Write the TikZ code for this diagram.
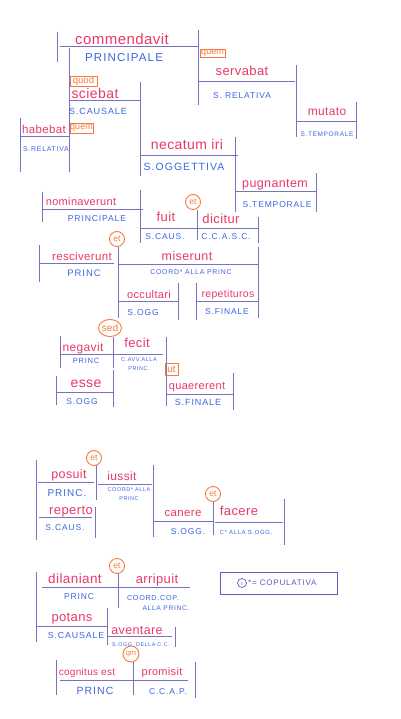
\documentclass[tikz,border=0pt]{standalone}
\usepackage{fontspec}
\usetikzlibrary{shapes.geometric}
\setmainfont{Liberation Sans}
\newfontfamily\bluefont[LetterSpace=10]{Liberation Sans}
\newfontfamily\pinkfont[LetterSpace=3]{Liberation Sans}
\definecolor{linec}{RGB}{122,114,192}
\definecolor{pinkc}{RGB}{232,58,102}
\definecolor{bluec}{RGB}{62,102,226}
\definecolor{orangec}{RGB}{244,122,62}
\definecolor{legc}{RGB}{98,88,190}
\tikzset{
  ln/.style={draw=linec, line width=1pt},
  pk/.style={text=pinkc, inner sep=0pt, text height=0.6em, text depth=0pt, font=\pinkfont\fontsize{#1}{#1}\selectfont},
  bl/.style={text=bluec, inner sep=0pt, text height=0.72em, text depth=0pt, font=\bluefont\fontsize{#1}{#1}\selectfont},
  etc/.style={draw=orangec, circle, line width=0.9pt, text=orangec, inner sep=0pt, minimum size=15pt, font=\fontsize{8.5}{8.5}\selectfont},
  obox/.style={draw=orangec, rectangle, line width=0.8pt, text=orangec, inner sep=0.3pt, font=\fontsize{9}{9}\selectfont},
}
\begin{document}
\begin{tikzpicture}[x=1pt,y=-1pt]
\fill[white] (0,0) rectangle (400,719);
\useasboundingbox (0,0) rectangle (400,719);

% ---------- lines, first sentence ----------
\draw[ln] (57,32) -- (57,62);
\draw[ln] (60,47) -- (198,47);
\draw[ln] (198,30) -- (198,105);
\draw[ln] (69,48) -- (69,172);
\draw[ln] (69,101) -- (140,101);
\draw[ln] (140,82) -- (140,176);
\draw[ln] (20,118) -- (20,172);
\draw[ln] (20,137) -- (69,137);
\draw[ln] (140,156) -- (238,156);
\draw[ln] (235,137) -- (235,212);
\draw[ln] (198,82) -- (295,82);
\draw[ln] (296,65) -- (296,137);
\draw[ln] (296,122) -- (357,122);
\draw[ln] (356,102) -- (356,139);
\draw[ln] (235,192) -- (317,192);
\draw[ln] (316,173) -- (316,212);
% nominaverunt / fuit / dicitur
\draw[ln] (42,192) -- (42,222);
\draw[ln] (42,210) -- (143,210);
\draw[ln] (140,190) -- (140,243);
\draw[ln] (140,228) -- (258,228);
\draw[ln] (197,210) -- (197,240);
\draw[ln] (258,217) -- (258,243);
% resciverunt / miserunt
\draw[ln] (39,245) -- (39,282);
\draw[ln] (39,263) -- (114,263);
\draw[ln] (118,247) -- (118,318);
\draw[ln] (118,264) -- (258,264);
\draw[ln] (258,247) -- (258,318);
\draw[ln] (118,301) -- (178,301);
\draw[ln] (178,283) -- (178,320);
\draw[ln] (196,283) -- (196,320);
\draw[ln] (196,301) -- (258,301);
% negavit / fecit / esse / quaererent
\draw[ln] (60,336) -- (60,368);
\draw[ln] (113,337) -- (113,368);
\draw[ln] (60,354) -- (163,354);
\draw[ln] (56,376) -- (56,405);
\draw[ln] (56,392) -- (113,392);
\draw[ln] (113,370) -- (113,407);
\draw[ln] (166,337) -- (166,406);
\draw[ln] (166,394) -- (234,394);
\draw[ln] (233,373) -- (233,410);

% ---------- second sentence ----------
\draw[ln] (36,460) -- (36,540);
\draw[ln] (38,482) -- (94,482);
\draw[ln] (96,465) -- (96,500);
\draw[ln] (98,484) -- (152,484);
\draw[ln] (153,465) -- (153,537);
\draw[ln] (39,517) -- (92,517);
\draw[ln] (95,507) -- (95,538);
\draw[ln] (153,521) -- (213,521);
\draw[ln] (213,501) -- (213,535);
\draw[ln] (215,522) -- (283,522);
\draw[ln] (284,499) -- (284,545);

% ---------- third sentence ----------
\draw[ln] (36,572) -- (36,642);
\draw[ln] (42,587) -- (190,587);
\draw[ln] (118,573) -- (118,608);
\draw[ln] (36,626) -- (107,626);
\draw[ln] (107,608) -- (107,645);
\draw[ln] (108,636) -- (172,636);
\draw[ln] (175,627) -- (175,647);
\draw[ln] (56,660) -- (56,695);
\draw[ln] (60,680) -- (188,680);
\draw[ln] (133,662) -- (133,695);
\draw[ln] (195,662) -- (195,698);

% ---------- legend ----------
\draw[draw=legc, line width=1pt] (220,572) rectangle (337,594);
\node[draw=legc, circle, line width=0.7pt, inner sep=0pt, minimum size=9pt, text=legc, font=\fontsize{6}{6}\selectfont] (legi) at (242,583) {i};
\node[text=legc, inner sep=0pt, anchor=west, font=\bluefont\fontsize{8}{8}\selectfont] (legt) at (248,583) {*= COPULATIVA};

% ---------- pink verbs ----------
\node[pk=15] (p1) at (122,42) {commendavit};
\node[pk=14] (p2) at (95,96) {sciebat};
\node[pk=11.5] (p3) at (44,131) {habebat};
\node[pk=13] (p4) at (242,73) {servabat};
\node[pk=12] (p5) at (327,113) {mutato};
\node[pk=14] (p6) at (187,147) {necatum iri};
\node[pk=12.5] (p7) at (275,185) {pugnantem};
\node[pk=11] (p8) at (81,203) {nominaverunt};
\node[pk=13] (p9) at (166,219) {fuit};
\node[pk=13] (p10) at (221,220) {dicitur};
\node[pk=11.5] (p11) at (82,257) {resciverunt};
\node[pk=12.5] (p12) at (187,257) {miserunt};
\node[pk=11] (p13) at (149,295) {occultari};
\node[pk=10.5] (p14) at (228,294) {repetituros};
\node[pk=12] (p15) at (83,348) {negavit};
\node[pk=13] (p16) at (137,344) {fecit};
\node[pk=14] (p17) at (86,384) {esse};
\node[pk=11] (p18) at (197,386) {quaererent};
\node[pk=12.5] (p19) at (69,475) {posuit};
\node[pk=12] (p20) at (122,477) {iussit};
\node[pk=13] (p21) at (71,511) {reperto};
\node[pk=11.5] (p22) at (183,513) {canere};
\node[pk=13] (p23) at (239,512) {facere};
\node[pk=13.5] (p24) at (75,580) {dilaniant};
\node[pk=13] (p25) at (157,580) {arripuit};
\node[pk=13] (p26) at (72,618) {potans};
\node[pk=12.5] (p27) at (137,631) {aventare};
\node[pk=10] (p28) at (87,672) {cognitus est};
\node[pk=11] (p29) at (162,672) {promisit};

% ---------- blue labels ----------
\node[bl=11.5] (b1) at (124,58) {PRINCIPALE};
\node[bl=9] (b2) at (98,111) {S.CAUSALE};
\node[bl=7] (b3) at (46,148) {S.RELATIVA};
\node[bl=8.5] (b4) at (242,95) {S. RELATIVA};
\node[bl=6.5] (b5) at (327,133) {S.TEMPORALE};
\node[bl=10.5] (b6) at (184,167) {S.OGGETTIVA};
\node[bl=8.5] (b7) at (277,204) {S.TEMPORALE};
\node[bl=8.6] (b8) at (97,218) {PRINCIPALE};
\node[bl=8.5] (b9) at (165,236) {S.CAUS.};
\node[bl=8.5] (b10) at (226,236) {C.C.A.S.C.};
\node[bl=9.5] (b11) at (84,273) {PRINC};
\node[bl=7] (b12) at (191,271) {COORD* ALLA PRINC};
\node[bl=8.5] (b13) at (143,312) {S.OGG};
\node[bl=8.5] (b14) at (227,311) {S.FINALE};
\node[bl=7.5] (b15) at (86,360) {PRINC};
\node[bl=5.5] (b16) at (139,358) {C.AVV.ALLA};
\node[bl=5.5] (b16b) at (139,367) {PRINC.};
\node[bl=8.5] (b17) at (82,401) {S.OGG};
\node[bl=9] (b18) at (198,402) {S.FINALE};
\node[bl=10] (b19) at (67,493) {PRINC.};
\node[bl=5.5] (b20) at (129,488) {COORD* ALLA};
\node[bl=5.5] (b20b) at (129,497) {PRINC};
\node[bl=8.5] (b21) at (65,527) {S.CAUS.};
\node[bl=8.5] (b22) at (188,531) {S.OGG.};
\node[bl=6] (b23) at (246,531) {C* ALLA S.OGG.};
\node[bl=8.5] (b24) at (79,596) {PRINC};
\node[bl=7.2] (b25) at (153,597) {COORD.COP.};
\node[bl=6.7] (b25b) at (166,607) {ALLA PRINC.};
\node[bl=8.8] (b26) at (76,635) {S.CAUSALE};
\node[bl=5.4] (b27) at (141,643) {S.OGG. DELLA C.C.};
\node[bl=10.5] (b28) at (95,691) {PRINC};
\node[bl=8.5] (b29) at (168,691) {C.C.A.P.};

% ---------- orange conjunctions ----------
\node[obox, minimum width=27pt, minimum height=9pt, font=\fontsize{9.5}{9.5}\selectfont] (o1) at (83.5,81.5) {quod};
\node[obox, minimum width=23pt, minimum height=10pt] (o2) at (81.5,128) {quem};
\node[obox, minimum width=25pt, minimum height=8pt] (o3) at (212.5,53) {quem};
\node[obox, minimum width=13pt, minimum height=12pt, font=\fontsize{10}{10}\selectfont] (o4) at (171.5,369) {ut};
\node[etc] (c1) at (193,202) {et};
\node[etc] (c2) at (117,239) {et};
\node[etc, ellipse, minimum width=23pt, minimum height=17pt, font=\fontsize{10}{10}\selectfont] (c3) at (110,328) {sed};
\node[etc] (c4) at (94,458) {et};
\node[etc] (c5) at (213,494) {et};
\node[etc] (c6) at (117,566) {et};
\node[etc, minimum size=16pt, font=\fontsize{7.5}{7.5}\selectfont] (c7) at (131,654) {qm};
\end{tikzpicture}
\end{document}
